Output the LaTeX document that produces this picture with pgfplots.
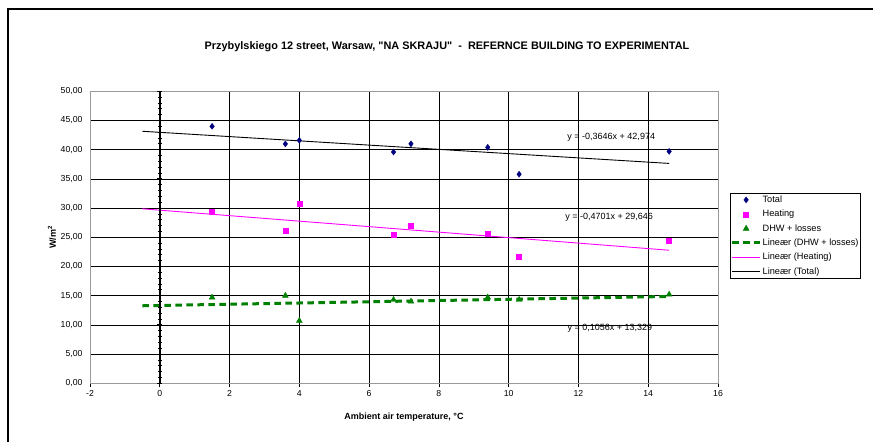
\documentclass[border=0pt]{standalone}
\usepackage{fontspec}
\setmainfont{Liberation Sans}
\usepackage{pgfplots}
\pgfplotsset{compat=1.18}

\definecolor{totblue}{HTML}{000080}
\definecolor{heatpink}{HTML}{FF00FF}
\definecolor{dhwgreen}{HTML}{008000}

\begin{document}
\begin{tikzpicture}[x=1pt,y=1pt]
\path[use as bounding box] (0,0) rectangle (873,442);
\draw[line width=1.5pt] (8,0) -- (8,433) -- (873,433);

\begin{axis}[
    at={(90pt,58.7pt)}, anchor=south west,
    scale only axis, width=628pt, height=292pt,
    xmin=-2, xmax=16, ymin=0, ymax=50,
    xtick={-2,0,...,16}, ytick={0,5,...,50},
    grid=major,
    major grid style={black, line width=0.7pt},
    axis line style={gray!80, line width=0.8pt},
    xtick pos=bottom, tick align=outside, major tick length=4pt,
    x tick style={black, line width=0.7pt},
    y tick style={draw=none},
    ticklabel style={font=\fontsize{8.7}{10}\selectfont},
    /pgf/number format/assume math mode=true,
    y tick label style={/pgf/number format/.cd, fixed, fixed zerofill, precision=2, use comma},
    x tick label style={/pgf/number format/.cd, fixed, int detect},
    xlabel={\textbf{Ambient air temperature, °C}},
    ylabel={\textbf{W/m\textsuperscript{2}}},
    label style={font=\fontsize{9}{10}\selectfont},
    xlabel style={at={(axis description cs:0.5,-0.115)}, anchor=center},
    ylabel style={at={(axis description cs:-0.0605,0.5)}, anchor=center, rotate=0},
    title={\textbf{Przybylskiego 12 street, Warsaw, \textquotedbl NA SKRAJU\textquotedbl\ \ -\ \ REFERNCE BUILDING TO EXPERIMENTAL}},
    title style={at={(axis description cs:0.5685,1.1335)}, anchor=center, font=\fontsize{10.9}{12}\selectfont},
    clip=false,
    legend cell align=left,
    legend style={at={(axis description cs:1.019,0.6507)}, anchor=north west,
        draw=black, font=\fontsize{9.2}{11}\selectfont,
        inner xsep=0.5pt, inner ysep=1.5pt, row sep=4.6pt,
        nodes={inner xsep=1pt, inner ysep=0.8pt}},
    legend image code/.code={\draw[mark repeat=2, mark phase=2, #1] plot coordinates {(0pt,0pt) (14pt,0pt) (28pt,0pt)};},
]

\addplot[only marks, mark=diamond*, mark size=3pt, color=totblue] coordinates {
    (1.5,44.0) (3.6,41.0) (4.0,41.6) (6.7,39.6) (7.2,41.0) (9.4,40.4) (10.3,35.8) (14.6,39.7)
};
\addlegendentry{Total}

\addplot[only marks, mark=square*, mark size=2.5pt, color=heatpink] coordinates {
    (1.5,29.4) (3.6,26.1) (4.0,30.8) (6.7,25.4) (7.2,27.0) (9.4,25.7) (10.3,21.6) (14.6,24.5)
};
\addlegendentry{Heating}

\addplot[only marks, mark=triangle*, mark size=3.4pt, color=dhwgreen] coordinates {
    (1.5,14.7) (3.6,15.0) (4.0,10.7) (6.7,14.3) (7.2,14.0) (9.4,14.7) (10.3,14.3) (14.6,15.2)
};
\addlegendentry{DHW + losses}

% trendlines (Excel linear fits, -0.5 to 14.6)
\addplot[dhwgreen, line width=3pt, dash pattern=on 6.5pt off 4.5pt] coordinates {(-0.5,13.276) (14.6,14.871)};
\addlegendentry{Lineær (DHW + losses)}

\addplot[heatpink, solid, line width=0.9pt] coordinates {(-0.5,29.881) (14.6,22.783)};
\addlegendentry{Lineær (Heating)}

\addplot[black, solid, line width=0.9pt] coordinates {(-0.5,43.156) (14.6,37.651)};
\addlegendentry{Lineær (Total)}

\node[font=\fontsize{9}{10}\selectfont] at (axis cs:12.94,42.1) {y = -0,3646x + 42,974};
\node[font=\fontsize{9}{10}\selectfont] at (axis cs:12.88,28.4) {y = -0,4701x + 29,646};
\node[font=\fontsize{9}{10}\selectfont] at (axis cs:12.9,9.5) {y = 0,1056x + 13,329};
\end{axis}

% vertical axis crossing at x = 0
\begin{axis}[
    at={(90pt,58.7pt)}, anchor=south west,
    scale only axis, width=628pt, height=292pt,
    xmin=-2, xmax=16, ymin=0, ymax=50,
    axis x line=none, axis y line=middle,
    axis line style={-, black, line width=1.6pt},
    ytick={0,5,...,50}, minor y tick num=4, yticklabels={},
    tick align=center, major tick length=5pt, minor tick length=4pt,
    tick style={black, line width=0.8pt},
]
\end{axis}
\end{tikzpicture}
\end{document}
